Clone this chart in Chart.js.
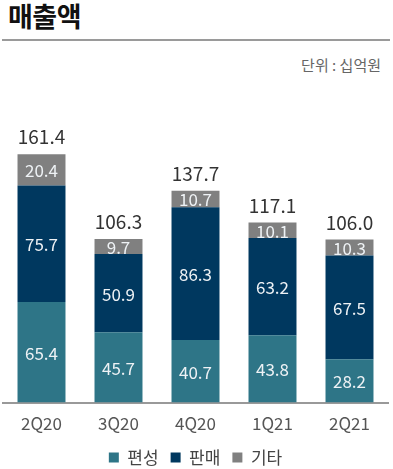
<!DOCTYPE html>
<html>
<head>
<meta charset="utf-8">
<script src="https://cdn.jsdelivr.net/npm/chart.js@4"></script>
<style>
    html, body { margin: 0; padding: 0; background: #fff; }
    body { width: 393px; height: 469px; position: relative; overflow: hidden; font-family: "Noto Sans CJK KR", "Noto Sans", sans-serif; }
    .title { position: absolute; left: 8px; top: -4px; font-size: 27px; font-weight: 700; color: #111; letter-spacing: -0.5px; }
    .rule { position: absolute; left: 2px; top: 39px; width: 388px; height: 0; border-top: 2px solid #9a9a9a; }
    .unit { position: absolute; right: 12px; top: 54px; font-size: 15px; color: #666; }
    #wrap { position: absolute; left: 0; top: 0; width: 393px; height: 476px; }
</style>
</head>
<body>
<div class="title">매출액</div>
<div class="rule"></div>
<div class="unit">단위 : 십억원</div>
<div id="wrap"><canvas id="salesChart"></canvas></div>

<script>
// values (십억원)
const quarters = ['2Q20', '3Q20', '4Q20', '1Q21', '2Q21'];
const pyeonseong = [65.4, 45.7, 40.7, 43.8, 28.2];
const panmae = [75.7, 50.9, 86.3, 63.2, 67.5];
const gita = [20.4, 9.7, 10.7, 10.1, 10.3];
const totals = ['161.4', '106.3', '137.7', '117.1', '106.0'];

const FONT = '"Noto Sans CJK KR", "Noto Sans", sans-serif';

// writes the value inside each segment and the total above each bar
const barLabels = {
    id: 'barLabels',
    afterDatasetsDraw(chart) {
        const ctx = chart.ctx;
        ctx.save();
        ctx.textAlign = 'center';
        ctx.textBaseline = 'middle';
        ctx.font = '17px ' + FONT;
        ctx.fillStyle = '#eef2f5';
        chart.data.datasets.forEach((ds, i) => {
            chart.getDatasetMeta(i).data.forEach((bar, j) => {
                ctx.fillText(ds.data[j].toFixed(1), bar.x, (bar.y + bar.base) / 2 + 1);
            });
        });
        let top = chart.getDatasetMeta(chart.data.datasets.length - 1).data;
        ctx.font = '19px ' + FONT;
        ctx.fillStyle = '#333';
        top.forEach((bar, j) => {
            ctx.fillText(totals[j], bar.x, bar.y - 17);
        });
        ctx.restore();
    }
};

new Chart(document.getElementById('salesChart'), {
    type: 'bar',
    data: {
        labels: quarters,
        datasets: [
            { label: '편성', data: pyeonseong, backgroundColor: 'rgb(46,117,135)' },
            { label: '판매', data: panmae, backgroundColor: 'rgb(0,56,95)' },
            { label: '기타', data: gita, backgroundColor: 'rgb(128,128,128)' },
        ]
    },
    options: {
        responsive: true,
        maintainAspectRatio: false,
        animation: false,
        layout: { padding: { left: 3, right: 5, top: 95, bottom: 0 } },
        datasets: { bar: { categoryPercentage: 1, barPercentage: 0.623 } },
        plugins: {
            legend: {
                position: 'bottom',
                labels: {
                    font: { family: FONT, size: 17 },
                    color: '#444',
                    boxWidth: 10,
                    boxHeight: 10,
                    padding: 12,
                }
            },
            tooltip: { enabled: false },
        },
        scales: {
            x: {
                stacked: true,
                grid: { display: false, drawTicks: false },
                border: { display: true, color: '#999', width: 2 },
                ticks: { font: { family: FONT, size: 17 }, color: '#555', padding: 11 },
                afterFit: (scale) => { scale.height -= 8; },
            },
            y: {
                stacked: true,
                display: false,
                min: 0,
                max: 200,
            }
        }
    },
    plugins: [barLabels]
});
</script>
</body>
</html>
